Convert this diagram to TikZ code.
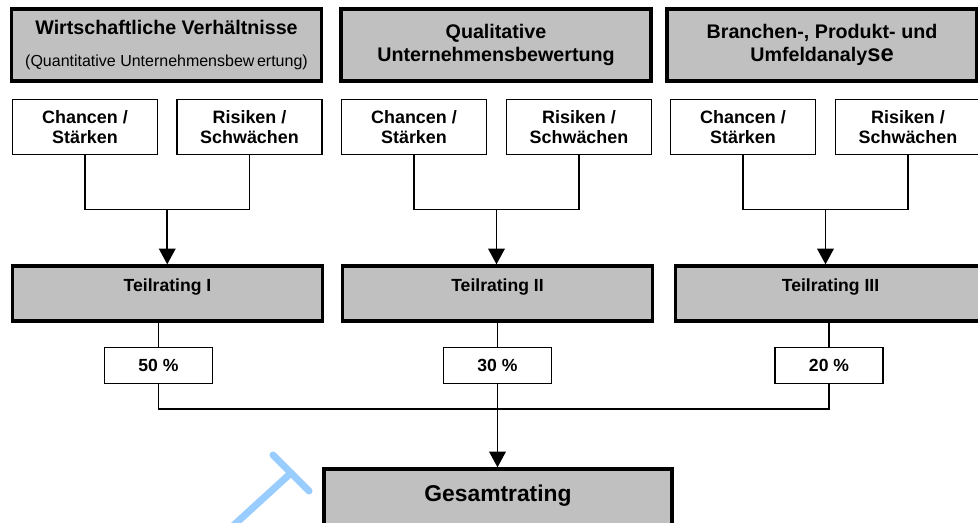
\documentclass[tikz,border=0pt]{standalone}
\usepackage{fontspec}
\setmainfont{Liberation Sans}
\usepackage{tikz}
\usetikzlibrary{arrows.meta,calc}
\definecolor{boxgray}{HTML}{C0C0C0}
\definecolor{markblue}{HTML}{99CCFF}
\tikzset{
  header/.style={draw, line width=1.9pt, fill=boxgray, minimum width=6.2cm, minimum height=1.44cm, align=center, font=\bfseries\fontsize{11.2}{13}\selectfont},
  factor/.style={draw, line width=0.8pt, fill=white, minimum width=2.9cm, minimum height=1.1cm, align=center, font=\bfseries\fontsize{10.2}{11.5}\selectfont},
  partrating/.style={draw, line width=1.9pt, fill=boxgray, minimum width=6.2cm, minimum height=1.1cm, text height=8pt, text depth=10.4pt, font=\bfseries\fontsize{10}{12}\selectfont},
  weight/.style={draw, line width=0.8pt, fill=white, minimum width=2.16cm, minimum height=0.72cm, font=\bfseries\fontsize{10}{12}\selectfont},
  total/.style={draw, line width=1.9pt, fill=boxgray, minimum width=6.96cm, minimum height=1.5cm, text height=10pt, text depth=16pt, font=\bfseries\fontsize{13}{15}\selectfont},
  link/.style={line width=0.9pt},
  flow/.style={line width=0.9pt, -{Triangle[width=9.5pt,length=9pt]}}
}

\begin{document}
\begin{tikzpicture}[x=0.02cm, y=-0.02cm]
  \useasboundingbox (0,0) rectangle (978,523);
  \clip (0,0) rectangle (978,523);

  % areas
  \node[header] (h1) at (166.5,45) {Wirtschaftliche Verhältnisse\\[5pt]{\mdseries\fontsize{9.1}{11}\selectfont (Quantitative Unternehmensbew\kern1.5pt ertung)}};
  \node[header] (h2) at (496,45) {Qualitative\\Unternehmensbewertung};
  \node[header] (h3) at (822,45) {Branchen-, Produkt- und\\Umfeldanaly{\fontsize{13.5}{13}\selectfont se}};

  % chances and risks
  \node[factor] (ch1) at (85,127) {Chancen /\\Stärken};
  \node[factor] (ri1) at (249.5,127) {Risiken /\\Schwächen};
  \node[factor] (ch2) at (414,127) {Chancen /\\Stärken};
  \node[factor] (ri2) at (579,127) {Risiken /\\Schwächen};
  \node[factor] (ch3) at (743,127) {Chancen /\\Stärken};
  \node[factor] (ri3) at (908,127) {Risiken /\\Schwächen};

  \node[partrating] (tr1) at (167.5,293.5) {Teilrating I};
  \node[partrating] (tr2) at (497.5,293.5) {Teilrating II};
  \node[partrating] (tr3) at (830.5,293.5) {Teilrating III};

  \node[weight] (pc1) at (158.5,365.5) {50 \%};
  \node[weight] (pc2) at (497.5,365.5) {30 \%};
  \node[weight] (pc3) at (829,365.5) {20 \%};

  \node[total] (ges) at (498,506.5) {Gesamtrating};

  \foreach \i in {1,2,3} {
    \coordinate (j\i) at ($(ch\i.south)!.5!(ri\i.south)+(0,54.5)$);
    \draw[link] (ch\i.south) |- (j\i) -| (ri\i.south);
    \draw[flow] (j\i) -- (j\i |- tr\i.north);
    \draw[link] (pc\i.north) -- (pc\i.north |- tr\i.south);
  }

  \coordinate (jw) at ($(pc2.south)+(0,25)$);
  \draw[link] (pc1.south) |- (jw) -| (pc3.south);
  \draw[flow] (pc2.south) -- (pc2.south |- ges.north);

  % blue mark
  \draw[markblue, line width=4pt, line cap=round] (273,455) -- (309,491);
  \draw[markblue, line width=4pt, line cap=round] (291,473) -- (200,556);
\end{tikzpicture}
\end{document}
